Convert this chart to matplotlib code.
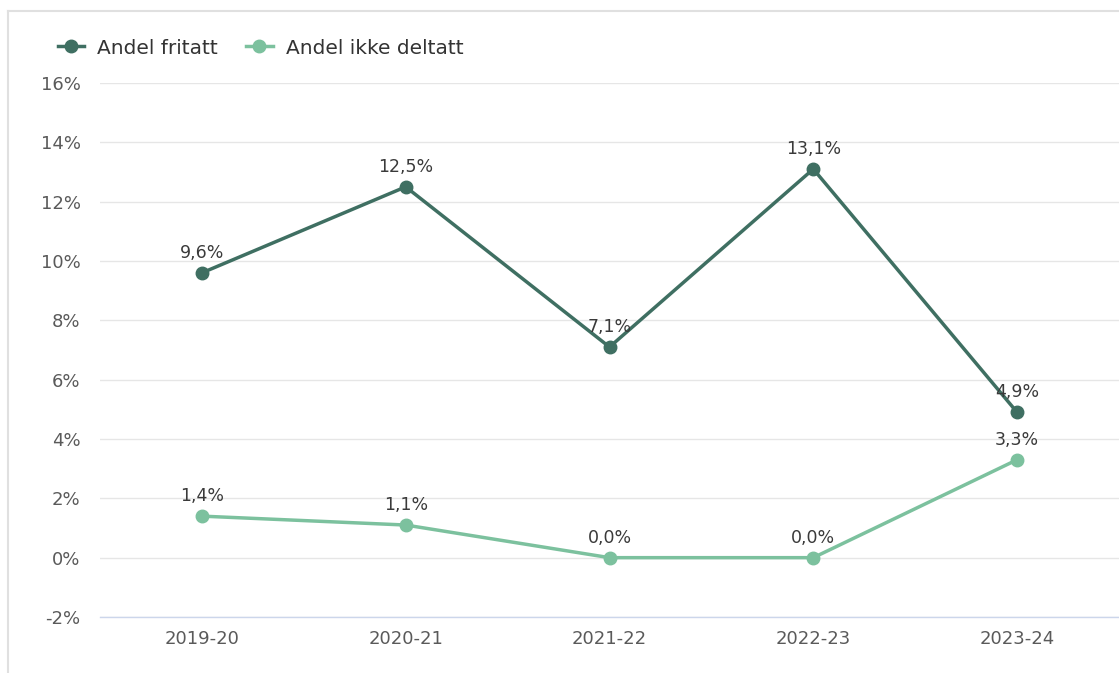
import matplotlib.pyplot as plt
from matplotlib.lines import Line2D

years = ['2019-20', '2020-21', '2021-22', '2022-23', '2023-24']
fritatt = [9.6, 12.5, 7.1, 13.1, 4.9]
ikke_deltatt = [1.4, 1.1, 0.0, 0.0, 3.3]
yticks = [-2, 0, 2, 4, 6, 8, 10, 12, 14, 16]

dark = '#3f6f62'
light = '#7cc19e'
txt = '#5a5a5a'

plt.rcParams['font.family'] = ['DejaVu Sans']

fig = plt.figure(figsize=(11.19, 6.73), dpi=100)
ax = fig.add_axes([100 / 1119, 1 - 617 / 673, 1 - 100 / 1119, (617 - 83) / 673])

x = list(range(len(years)))
ax.plot(x, fritatt, color=dark, lw=2.5, marker='o', ms=9, zorder=3)
ax.plot(x, ikke_deltatt, color=light, lw=2.5, marker='o', ms=9, zorder=3)

for i, v in enumerate(fritatt):
    ax.annotate(f'{v:.1f}%'.replace('.', ','), (i, v), xytext=(0, 8), textcoords='offset points',
                ha='center', va='bottom', fontsize=12.5, color='#3a3a3a', zorder=4)
for i, v in enumerate(ikke_deltatt):
    ax.annotate(f'{v:.1f}%'.replace('.', ','), (i, v), xytext=(0, 8), textcoords='offset points',
                ha='center', va='bottom', fontsize=12.5, color='#3a3a3a', zorder=4)

ax.set_xlim(-0.5, len(years) - 0.5)
ax.set_ylim(-2, 16)
ax.set_yticks(yticks)
ax.set_yticklabels([f'{t}%' for t in yticks])
ax.set_xticks(x)
ax.set_xticklabels(years)
ax.tick_params(axis='both', length=0, labelsize=13, labelcolor=txt)
ax.tick_params(axis='y', pad=14)
ax.tick_params(axis='x', pad=9)
ax.grid(axis='y', color='#e6e6e6', lw=1)
ax.set_axisbelow(True)
for s in ['top', 'right', 'left']:
    ax.spines[s].set_visible(False)
ax.spines['bottom'].set_color('#ccd6eb')
ax.spines['bottom'].set_linewidth(1)

# outer frame
fig.add_artist(Line2D([8 / 1119, 1], [1 - 11 / 673, 1 - 11 / 673], color='#e0e0e0', lw=1.5))
fig.add_artist(Line2D([8 / 1119, 8 / 1119], [0, 1 - 11 / 673], color='#e0e0e0', lw=1.5))

handles = [Line2D([], [], color=dark, lw=2.5, marker='o', ms=9),
           Line2D([], [], color=light, lw=2.5, marker='o', ms=9)]
fig.legend(handles, ['Andel fritatt', 'Andel ikke deltatt'], loc='center left',
           bbox_to_anchor=(40 / 1119, 1 - 48 / 673), ncol=2, frameon=False,
           fontsize=14.5, labelcolor='#333333', handlelength=1.3, handletextpad=0.65,
           columnspacing=1.4)

fig.savefig('out.png', dpi=100)
